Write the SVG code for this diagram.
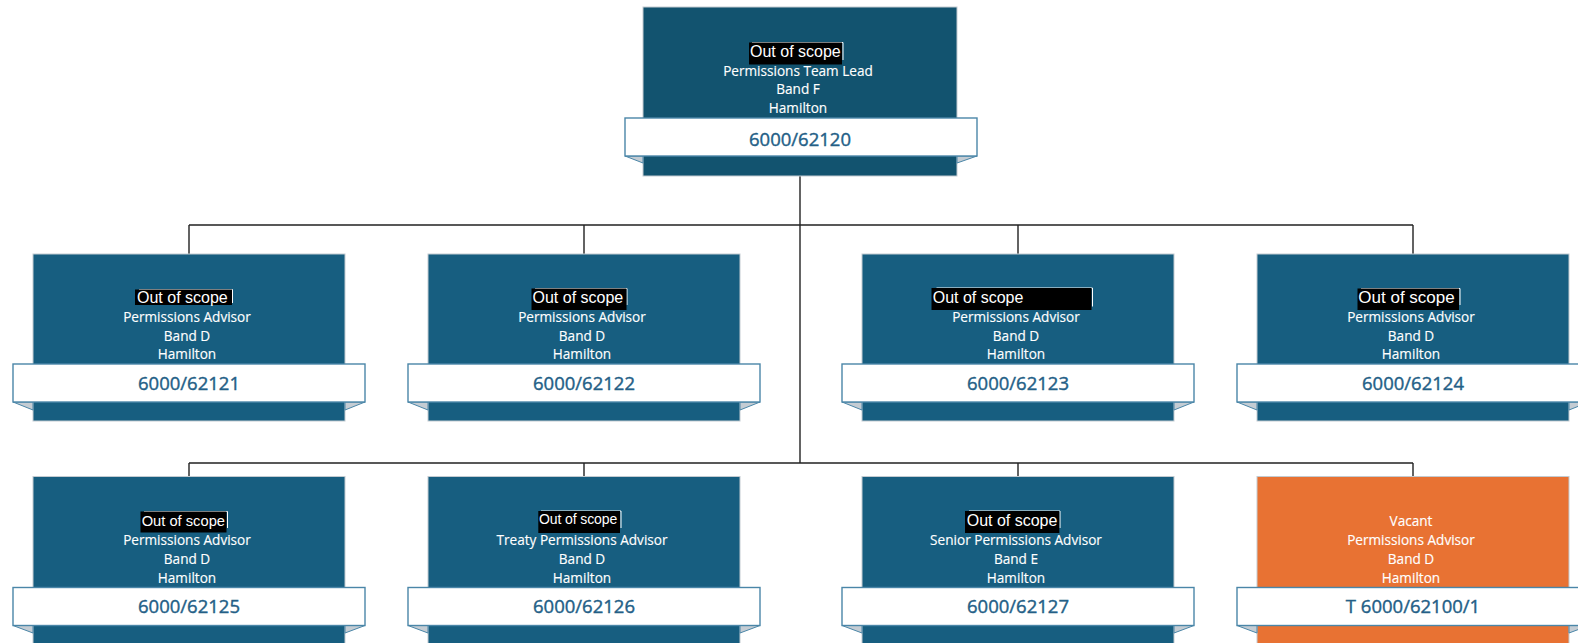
<svg xmlns="http://www.w3.org/2000/svg" width="1578" height="643" viewBox="0 0 1578 643">
<style>
.box{stroke:#c3cbd1;stroke-width:1}
.blue{fill:#175e80}
.top{fill:#12536f}
.orange{fill:#e87233}
.banner{fill:#ffffff;stroke:#4a86a8;stroke-width:1.4}
.fold{fill:#c4ccd3;stroke:#4a86a8;stroke-width:1}
.hl{fill:#000000}
.hle{fill:none;stroke:#ffffff;stroke-width:1}
.oos{font-family:"Liberation Sans",Arial,sans-serif;fill:#ffffff}
.t{font-family:"Open Sans","Noto Sans",sans-serif;font-size:13.6px;fill:#ffffff;stroke:#ffffff;stroke-width:0.15;text-anchor:middle}
.num{font-family:"Open Sans","Noto Sans",sans-serif;font-size:18.5px;fill:#245f87;stroke:#245f87;stroke-width:0.4;text-anchor:middle}
.conn{fill:none;stroke:#222222;stroke-width:1.4}
</style>
<g id="connectors">
<path class="conn" d="M800,176 V463"/>
<path class="conn" d="M189,225 H1413 M189,225 V254 M584,225 V254 M1018,225 V254 M1413,225 V254"/>
<path class="conn" d="M189,463 H1413 M189,463 V476.5 M584,463 V476.5 M1018,463 V476.5 M1413,463 V476.5"/>
</g>
<g id="node-62120">
<rect class="box top" x="643" y="7" width="314" height="169"/>
<polyline class="hle" points="752,42.5 843,42.5 843,60"/>
<rect class="hl" x="749" y="42.5" width="93" height="22"/>
<text class="oos" x="750" y="57" font-size="16">Out of scope</text>
<text class="t" x="798" y="75.5">Permissions Team Lead</text>
<text class="t" x="798" y="94">Band F</text>
<text class="t" x="798" y="113">Hamilton</text>
<polygon class="fold" points="625,156 643,156 643,163"/>
<polygon class="fold" points="957,156 977,156 957,163"/>
<rect class="banner" x="625" y="118" width="352" height="38"/>
<text class="num" x="800" y="145.5">6000/62120</text>
</g>
<g id="node-62121">
<rect class="box blue" x="33" y="254" width="312" height="167"/>
<polyline class="hle" points="139,289.5 232.5,289.5 232.5,303"/>
<rect class="hl" x="135" y="289.5" width="97" height="15.5"/>
<text class="oos" x="137" y="303" font-size="16">Out of scope</text>
<text class="t" x="187" y="321.5">Permissions Advisor</text>
<text class="t" x="187" y="340.5">Band D</text>
<text class="t" x="187" y="359">Hamilton</text>
<polygon class="fold" points="13,402 33,402 33,410"/>
<polygon class="fold" points="345,402 365,402 345,410"/>
<rect class="banner" x="13" y="364" width="352" height="38"/>
<text class="num" x="189" y="390">6000/62121</text>
</g>
<g id="node-62122">
<rect class="box blue" x="428" y="254" width="312" height="167"/>
<polyline class="hle" points="535,288.5 627,288.5 627,305"/>
<rect class="hl" x="531.5" y="288.5" width="95" height="21.5"/>
<text class="oos" x="532.5" y="303.3" font-size="16">Out of scope</text>
<text class="t" x="582" y="321.5">Permissions Advisor</text>
<text class="t" x="582" y="340.5">Band D</text>
<text class="t" x="582" y="359">Hamilton</text>
<polygon class="fold" points="408,402 428,402 428,410"/>
<polygon class="fold" points="740,402 760,402 740,410"/>
<rect class="banner" x="408" y="364" width="352" height="38"/>
<text class="num" x="584" y="390">6000/62122</text>
</g>
<g id="node-62123">
<rect class="box blue" x="862" y="254" width="312" height="167"/>
<polyline class="hle" points="936.5,288 1092.5,288 1092.5,306.5"/>
<rect class="hl" x="931.5" y="288" width="160" height="22"/>
<text class="oos" x="932.7" y="303.3" font-size="16">Out of scope</text>
<text class="t" x="1016" y="321.5">Permissions Advisor</text>
<text class="t" x="1016" y="340.5">Band D</text>
<text class="t" x="1016" y="359">Hamilton</text>
<polygon class="fold" points="842,402 862,402 862,410"/>
<polygon class="fold" points="1174,402 1194,402 1174,410"/>
<rect class="banner" x="842" y="364" width="352" height="38"/>
<text class="num" x="1018" y="390">6000/62123</text>
</g>
<g id="node-62124">
<rect class="box blue" x="1257" y="254" width="312" height="167"/>
<polyline class="hle" points="1361,288.5 1460,288.5 1460,305"/>
<rect class="hl" x="1357.5" y="288.5" width="101.5" height="21.5"/>
<text class="oos" x="1358.3" y="303.3" font-size="17">Out of scope</text>
<text class="t" x="1411" y="321.5">Permissions Advisor</text>
<text class="t" x="1411" y="340.5">Band D</text>
<text class="t" x="1411" y="359">Hamilton</text>
<polygon class="fold" points="1237,402 1257,402 1257,410"/>
<polygon class="fold" points="1569,402 1589,402 1569,410"/>
<rect class="banner" x="1237" y="364" width="352" height="38"/>
<text class="num" x="1413" y="390">6000/62124</text>
</g>
<g id="node-62125">
<rect class="box blue" x="33" y="476.5" width="312" height="170"/>
<polyline class="hle" points="144,511.5 227.5,511.5 227.5,528"/>
<rect class="hl" x="140.5" y="511.5" width="86" height="21"/>
<text class="oos" x="141.7" y="526" font-size="14.7">Out of scope</text>
<text class="t" x="187" y="545">Permissions Advisor</text>
<text class="t" x="187" y="564">Band D</text>
<text class="t" x="187" y="583">Hamilton</text>
<polygon class="fold" points="13,625.5 33,625.5 33,633"/>
<polygon class="fold" points="345,625.5 365,625.5 345,633"/>
<rect class="banner" x="13" y="587.5" width="352" height="38"/>
<text class="num" x="189" y="613">6000/62125</text>
</g>
<g id="node-62126">
<rect class="box blue" x="428" y="476.5" width="312" height="170"/>
<polyline class="hle" points="541,511 621,511 621,528"/>
<rect class="hl" x="538.3" y="511" width="81.7" height="22"/>
<text class="oos" x="539" y="523.5" font-size="14" letter-spacing="-0.1">Out of scope</text>
<text class="t" x="582" y="545">Treaty Permissions Advisor</text>
<text class="t" x="582" y="564">Band D</text>
<text class="t" x="582" y="583">Hamilton</text>
<polygon class="fold" points="408,625.5 428,625.5 428,633"/>
<polygon class="fold" points="740,625.5 760,625.5 740,633"/>
<rect class="banner" x="408" y="587.5" width="352" height="38"/>
<text class="num" x="584" y="613">6000/62126</text>
</g>
<g id="node-62127">
<rect class="box blue" x="862" y="476.5" width="312" height="170"/>
<polyline class="hle" points="969,511 1060,511 1060,528"/>
<rect class="hl" x="965" y="511" width="94.3" height="22"/>
<text class="oos" x="966.7" y="526" font-size="16">Out of scope</text>
<text class="t" x="1016" y="545">Senior Permissions Advisor</text>
<text class="t" x="1016" y="564">Band E</text>
<text class="t" x="1016" y="583">Hamilton</text>
<polygon class="fold" points="842,625.5 862,625.5 862,633"/>
<polygon class="fold" points="1174,625.5 1194,625.5 1174,633"/>
<rect class="banner" x="842" y="587.5" width="352" height="38"/>
<text class="num" x="1018" y="613">6000/62127</text>
</g>
<g id="node-62100-1">
<rect class="box orange" x="1257" y="476.5" width="312" height="170"/>
<text class="t" x="1411" y="525.5">Vacant</text>
<text class="t" x="1411" y="545">Permissions Advisor</text>
<text class="t" x="1411" y="564">Band D</text>
<text class="t" x="1411" y="583">Hamilton</text>
<polygon class="fold" points="1237,625.5 1257,625.5 1257,633"/>
<polygon class="fold" points="1569,625.5 1589,625.5 1569,633"/>
<rect class="banner" x="1237" y="587.5" width="352" height="38"/>
<text class="num" x="1413" y="613">T 6000/62100/1</text>
</g>
</svg>
